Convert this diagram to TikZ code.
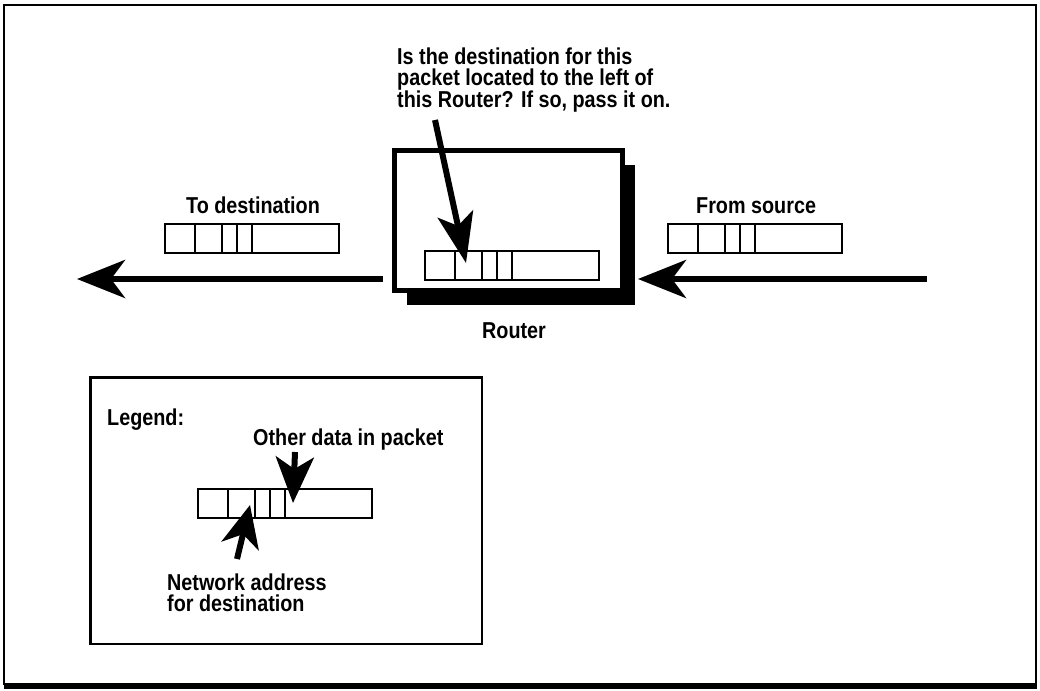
\documentclass[tikz,border=0pt]{standalone}
\usepackage{fontspec}
\setmainfont{Liberation Sans}[UprightFont=* Bold, FakeStretch=0.86]
\usetikzlibrary{arrows.meta,shadows}

\tikzset{
    packet/.style={draw, line width=2pt, minimum width=174pt, minimum height=29pt, inner sep=0pt},
    router/.style={draw, line width=5pt, fill=white, minimum width=228pt, minimum height=140pt,
        drop shadow={shadow xshift=12pt, shadow yshift=-14pt, opacity=1, fill=black}},
    lbl/.style={inner sep=0pt, anchor=base west, align=left},
    bigarrow/.style={line width=6pt, -{Stealth[length=48pt, width=38pt, inset=14pt]}},
    pointer/.style={line width=6pt, -{Stealth[length=46pt, width=38pt, inset=12pt]}}
}

\begin{document}
\begin{tikzpicture}[x=1pt, y=-1pt, font=\fontsize{23}{21}\selectfont]
            \useasboundingbox (0,0) rectangle (1040,690);

            % ==== FRAME ====
            \draw[line width=1.5pt] (4,5) rectangle (1036,684);
            \draw[line width=6pt] (4,686) -- (1037,686);

            % ==== ROUTER ====
            \node[router] (router) at (508.5,220.5) {};
            \node[lbl, anchor=base] (routerlbl) at (514,338) {Router};

            % ==== PACKETS ====
            \node[packet] (rpkt) at (511.5,265.5) {};
            \node[packet] (lpkt) at (252,238) {};
            \node[packet] (spkt) at (754.5,238.5) {};
            \node[packet] (gpkt) at (285,503.5) {};
            \foreach \p in {rpkt,lpkt,spkt,gpkt}
                \foreach \d in {31,58,73,88}
                    \draw[line width=2pt] ([xshift=\d pt]\p.north west) -- ([xshift=\d pt]\p.south west);

            % ==== LABELS ====
            \node[lbl] (tolbl) at (186,213) {To destination};
            \node[lbl] (fromlbl) at (696,213) {From source};
            \node[lbl] (question) at (397,108) {Is the destination for this\\packet located to the left of\\this Router? If so, pass it on.};

            % ==== MAIN ARROWS ====
            \coordinate (lefttip) at (77,279);
            \coordinate (righttail) at (927,279);
            \draw[bigarrow] (router.west |- lefttip) ++(-9,0) -- (lefttip);
            \draw[bigarrow] (righttail) -- ([xshift=13pt]router.east |- righttail);

            % ==== QUESTION ARROW ====
            \coordinate (qtail) at (435,120);
            \coordinate (qtip) at (466,263);
            \draw[pointer, -{Stealth[length=50pt, width=36pt, inset=12pt]}] (qtail) -- (qtip);

            % ==== LEGEND ====
            \node[draw, line width=2.5pt, minimum width=391.5pt, minimum height=266.5pt] (legend) at (286,510.5) {};
            \node[lbl] (legendlbl) at (107,425) {Legend:};
            \node[lbl] (otherlbl) at (253,445) {Other data in packet};
            \node[lbl] (netlbl) at (167,611) {Network address\\for destination};
            \coordinate (otail) at (295,452);
            \coordinate (otip) at (293,503);
            \coordinate (ntail) at (237,559);
            \coordinate (ntip) at (250,505);
            \draw[pointer] (otail) -- (otip);
            \draw[pointer, -{Stealth[length=42pt, width=38pt, inset=12pt]}] (ntail) -- (ntip);
\end{tikzpicture}
\end{document}
